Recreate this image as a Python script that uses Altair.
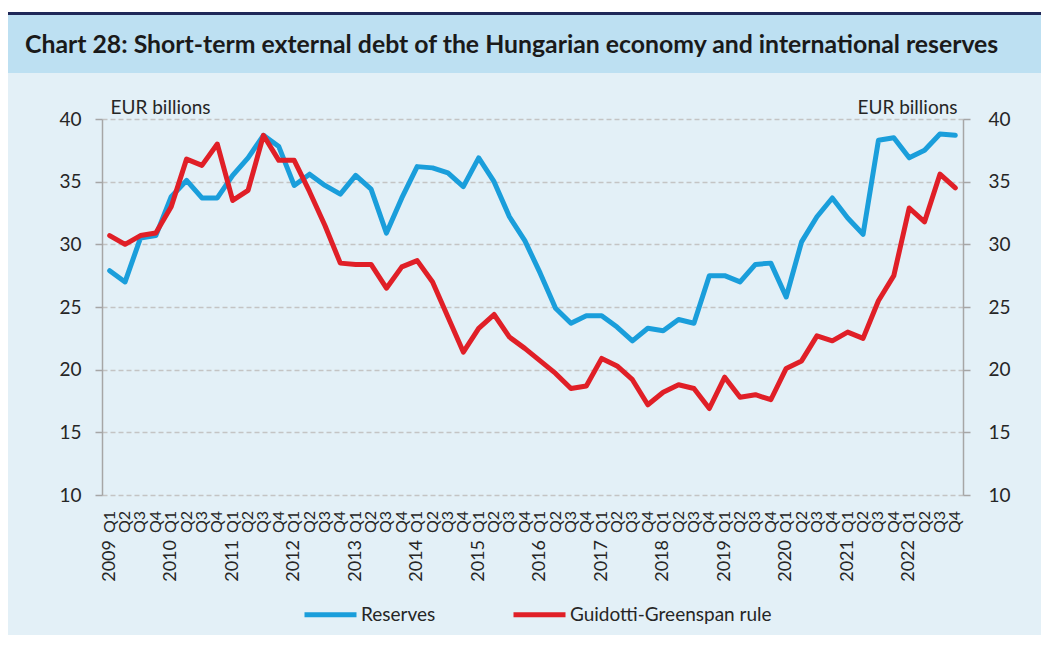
import altair as alt
import pandas as pd

years = list(range(2009, 2023))
quarters = ["Q1", "Q2", "Q3", "Q4"]
periods = [f"{y} {q}" for y in years for q in quarters]

reserves = [27.9, 27.0, 30.5, 30.7, 33.8, 35.1, 33.7, 33.7,
            35.5, 36.9, 38.7, 37.8, 34.7, 35.6, 34.7, 34.0,
            35.5, 34.4, 30.9, 33.7, 36.2, 36.1, 35.7, 34.6,
            36.9, 35.0, 32.2, 30.3, 27.7, 24.9, 23.7, 24.3,
            24.3, 23.4, 22.3, 23.3, 23.1, 24.0, 23.7, 27.5,
            27.5, 27.0, 28.4, 28.5, 25.8, 30.2, 32.2, 33.7,
            32.1, 30.8, 38.3, 38.5, 36.9, 37.5, 38.8, 38.7]

guidotti = [30.7, 30.0, 30.7, 30.9, 33.0, 36.8, 36.3, 38.0,
            33.5, 34.3, 38.7, 36.7, 36.7, 34.2, 31.5, 28.5,
            28.4, 28.4, 26.5, 28.2, 28.7, 27.0, 24.2, 21.4,
            23.3, 24.4, 22.6, 21.7, 20.7, 19.7, 18.5, 18.7,
            20.9, 20.3, 19.2, 17.2, 18.2, 18.8, 18.5, 16.9,
            19.4, 17.8, 18.0, 17.6, 20.1, 20.7, 22.7, 22.3,
            23.0, 22.5, 25.5, 27.5, 32.9, 31.8, 35.6, 34.5]

series_names = ["Reserves", "Guidotti-Greenspan rule"]
series_colors = ["#1a9edb", "#e01f27"]
title_text = "Chart 28: Short-term external debt of the Hungarian economy and international reserves"
unit_label = "EUR billions"

FONT = "Lato"
TXT = "#262626"
W, H = 861, 376

df = pd.DataFrame({
    "period": periods * 2,
    "series": [series_names[0]] * len(periods) + [series_names[1]] * len(periods),
    "value": reserves + guidotti,
})
df_years = pd.DataFrame({"period": [f"{y} Q1" for y in years], "year": [str(y) for y in years]})
df_quarters = pd.DataFrame({"period": periods, "quarter": [q for _ in years for q in quarters]})

lines = alt.Chart(df).mark_line(strokeWidth=5, strokeJoin="round", strokeCap="round").encode(
    x=alt.X("period:O", sort=periods, axis=None),
    y=alt.Y(
        "value:Q", scale=alt.Scale(domain=[10, 40]),
        axis=alt.Axis(
            orient="left", values=[10, 15, 20, 25, 30, 35, 40], title=unit_label,
            titleAngle=0, titleAlign="left", titleBaseline="alphabetic", titleX=8, titleY=-6,
            titleFont=FONT, titleFontSize=19, titleFontWeight="normal", titleColor=TXT,
            labelFont=FONT, labelFontSize=19, labelColor=TXT, labelPadding=14,
            tickSize=7, tickColor="#a6a6a6", tickWidth=1.5,
            domainColor="#a6a6a6", domainWidth=1.5,
            grid=True, gridColor="#c4c4c4", gridDash=[5, 3], gridWidth=1.3,
        ),
    ),
    color=alt.Color(
        "series:N", sort=series_names,
        scale=alt.Scale(domain=series_names, range=series_colors),
        legend=alt.Legend(
            title=None, orient="none", direction="horizontal", legendX=200, legendY=467,
            symbolType="stroke", symbolSize=2704, symbolStrokeWidth=5, labelOffset=2,
            columnPadding=67, labelFont=FONT, labelFontSize=19, labelColor=TXT, padding=0,
            labelLimit=400,
        ),
    ),
)

right_axis = alt.Chart(df).mark_line(opacity=0).encode(
    x=alt.X("period:O", sort=periods, axis=None),
    y=alt.Y(
        "value:Q", scale=alt.Scale(domain=[10, 40]),
        axis=alt.Axis(
            orient="right", values=[10, 15, 20, 25, 30, 35, 40], title=unit_label,
            titleAngle=0, titleAlign="right", titleBaseline="alphabetic", titleX=-6, titleY=-6,
            titleFont=FONT, titleFontSize=19, titleFontWeight="normal", titleColor=TXT,
            labelFont=FONT, labelFontSize=19, labelColor=TXT, labelPadding=18,
            tickSize=7, tickColor="#a6a6a6", tickWidth=1.5,
            domainColor="#a6a6a6", domainWidth=1.5, grid=False,
        ),
    ),
    detail="series:N",
)

quarter_text = alt.Chart(df_quarters).mark_text(
    angle=270, align="right", baseline="middle", font=FONT, fontSize=16, color=TXT
).encode(
    x=alt.X("period:O", sort=periods, axis=None),
    y=alt.value(H + 16),
    text="quarter:N",
)

year_text = alt.Chart(df_years).mark_text(
    angle=270, align="right", baseline="middle", font=FONT, fontSize=18, color=TXT
).encode(
    x=alt.X("period:O", sort=periods, axis=None),
    y=alt.value(H + 45),
    text="year:N",
)

deco = alt.Data(values=[{"t": title_text}])
white_strip = alt.Chart(deco).mark_rect(color="white").encode(
    x=alt.value(-94), x2=alt.value(W + 78), y=alt.value(-111), y2=alt.value(-107))
navy_line = alt.Chart(deco).mark_rect(color="#1f2858").encode(
    x=alt.value(-94), x2=alt.value(W + 78), y=alt.value(-107), y2=alt.value(-104))
banner = alt.Chart(deco).mark_rect(color="#bde0f2").encode(
    x=alt.value(-94), x2=alt.value(W + 78), y=alt.value(-104), y2=alt.value(-46))
title = alt.Chart(deco).mark_text(
    align="left", baseline="alphabetic", font=FONT, fontSize=24.8, fontWeight="bold", color="#1a1a1a"
).encode(x=alt.value(-77), y=alt.value(-66), text="t:N")

chart = alt.layer(
    white_strip, navy_line, banner, title, lines, right_axis, quarter_text, year_text
).resolve_axis(y="independent").properties(
    width=W, height=H,
    background="#e3f0f7",
    padding={"left": 94, "top": 111, "right": 78, "bottom": 140},
    autosize=alt.AutoSizeParams(type="none"),
).configure_view(stroke=None)

chart.save("out.html", embed_options={"renderer": "svg", "actions": False})
